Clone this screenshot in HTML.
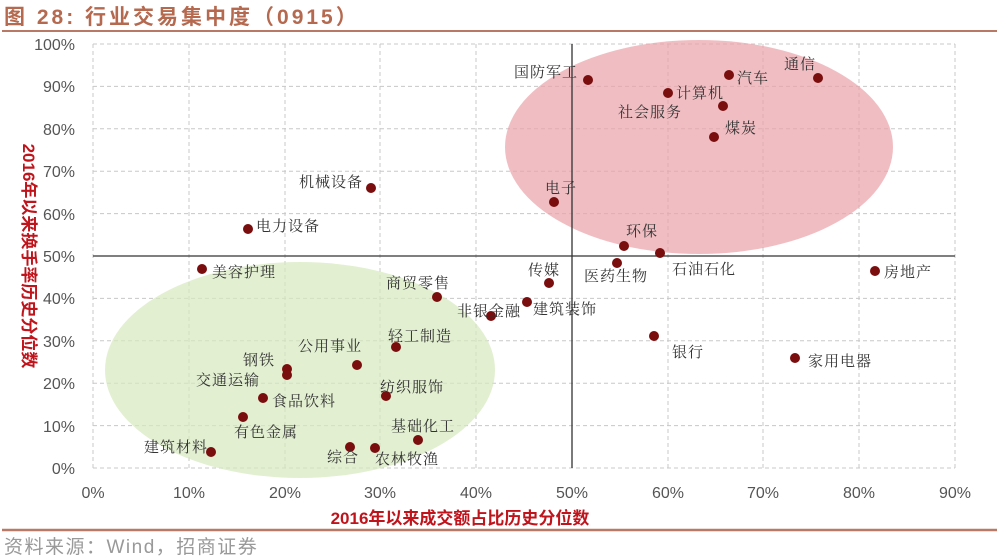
<!DOCTYPE html>
<html><head><meta charset="utf-8"><style>
body{margin:0;background:#fff;width:997px;height:558px;overflow:hidden}
svg{display:block}
.t{font-family:"Liberation Serif","Noto Serif CJK SC",serif;font-size:15px;letter-spacing:1px;fill:#333}
.ax{font-family:"Liberation Sans",sans-serif;font-size:16px;fill:#555}
</style></head><body>
<svg width="997" height="558" viewBox="0 0 997 558">
<text x="4" y="24" font-family="Liberation Sans,'Noto Sans CJK SC',sans-serif" font-size="21" font-weight="bold" letter-spacing="3" fill="#b5694f">图 28:  行业交易集中度（0915）</text>
<line x1="2" y1="31" x2="997" y2="31" stroke="#b87a66" stroke-width="2"/>
<line x1="2" y1="530" x2="997" y2="530" stroke="#b87a66" stroke-width="2.5"/>
<text x="4" y="553" font-family="Liberation Sans,'Noto Sans CJK SC',sans-serif" font-size="19" letter-spacing="1.5" fill="#999">资料来源：Wind，招商证券</text>
<g stroke="#c8c8c8" stroke-dasharray="4,3" stroke-width="1">
<line x1="93" y1="44" x2="955" y2="44"/><line x1="93" y1="86.4" x2="955" y2="86.4"/><line x1="93" y1="128.8" x2="955" y2="128.8"/><line x1="93" y1="171.2" x2="955" y2="171.2"/><line x1="93" y1="213.6" x2="955" y2="213.6"/><line x1="93" y1="298.4" x2="955" y2="298.4"/><line x1="93" y1="340.8" x2="955" y2="340.8"/><line x1="93" y1="383.2" x2="955" y2="383.2"/><line x1="93" y1="425.6" x2="955" y2="425.6"/><line x1="93" y1="468" x2="955" y2="468"/>
<line x1="93" y1="44" x2="93" y2="468"/><line x1="189" y1="44" x2="189" y2="468"/><line x1="285" y1="44" x2="285" y2="468"/><line x1="380" y1="44" x2="380" y2="468"/><line x1="476" y1="44" x2="476" y2="468"/><line x1="668" y1="44" x2="668" y2="468"/><line x1="763" y1="44" x2="763" y2="468"/><line x1="859" y1="44" x2="859" y2="468"/><line x1="955" y1="44" x2="955" y2="468"/>
</g>
<ellipse cx="699" cy="147" rx="194" ry="107" fill="#e9a3a8" fill-opacity="0.7"/>
<ellipse cx="300" cy="370" rx="195" ry="108" fill="#d6e8bd" fill-opacity="0.7"/>
<g stroke="#333" stroke-width="1.3">
<line x1="572" y1="44" x2="572" y2="468"/><line x1="93" y1="256" x2="955" y2="256"/>
</g>
<g class="ax" text-anchor="end">
<text x="75" y="50">100%</text><text x="75" y="92">90%</text><text x="75" y="135">80%</text><text x="75" y="177">70%</text><text x="75" y="220">60%</text><text x="75" y="262">50%</text><text x="75" y="304">40%</text><text x="75" y="347">30%</text><text x="75" y="389">20%</text><text x="75" y="432">10%</text><text x="75" y="474">0%</text>
</g>
<g class="ax" text-anchor="middle">
<text x="93" y="498">0%</text><text x="189" y="498">10%</text><text x="285" y="498">20%</text><text x="380" y="498">30%</text><text x="476" y="498">40%</text><text x="572" y="498">50%</text><text x="668" y="498">60%</text><text x="763" y="498">70%</text><text x="859" y="498">80%</text><text x="955" y="498">90%</text>
</g>
<text x="460" y="524" text-anchor="middle" font-family="Liberation Sans,'Noto Sans CJK SC',sans-serif" font-size="17" font-weight="bold" fill="#c0141c">2016年以来成交额占比历史分位数</text>
<text transform="translate(23,256) rotate(90)" text-anchor="middle" font-family="Liberation Sans,'Noto Sans CJK SC',sans-serif" font-size="17" font-weight="bold" fill="#c0141c">2016年以来换手率历史分位数</text>
<g fill="#7a0d0d">
<circle cx="588" cy="80" r="5"/><circle cx="818" cy="78" r="5"/><circle cx="729" cy="75" r="5"/><circle cx="668" cy="93" r="5"/><circle cx="723" cy="106" r="5"/><circle cx="714" cy="137" r="5"/><circle cx="371" cy="188" r="5"/><circle cx="554" cy="202" r="5"/><circle cx="248" cy="229" r="5"/><circle cx="624" cy="246" r="5"/><circle cx="660" cy="253" r="5"/><circle cx="617" cy="263" r="5"/><circle cx="549" cy="283" r="5"/><circle cx="875" cy="271" r="5"/><circle cx="202" cy="269" r="5"/><circle cx="437" cy="297" r="5"/><circle cx="527" cy="302" r="5"/><circle cx="491" cy="316" r="5"/><circle cx="396" cy="347" r="5"/><circle cx="357" cy="365" r="5"/><circle cx="287" cy="369" r="5"/><circle cx="287" cy="375" r="5"/><circle cx="263" cy="398" r="5"/><circle cx="386" cy="396" r="5"/><circle cx="243" cy="417" r="5"/><circle cx="654" cy="336" r="5"/><circle cx="795" cy="358" r="5"/><circle cx="418" cy="440" r="5"/><circle cx="211" cy="452" r="5"/><circle cx="350" cy="447" r="5"/><circle cx="375" cy="448" r="5"/>
</g>
<g class="t">
<text x="514" y="77">国防军工</text><text x="784" y="69">通信</text><text x="737" y="83">汽车</text><text x="676" y="98">计算机</text><text x="618" y="117">社会服务</text><text x="725" y="133">煤炭</text><text x="299" y="187">机械设备</text><text x="545" y="193">电子</text><text x="256" y="231">电力设备</text><text x="626" y="236">环保</text><text x="672" y="274">石油石化</text><text x="584" y="281">医药生物</text><text x="528" y="275">传媒</text><text x="884" y="277">房地产</text><text x="212" y="277">美容护理</text><text x="386" y="288">商贸零售</text><text x="533" y="314">建筑装饰</text><text x="457" y="316">非银金融</text><text x="388" y="341">轻工制造</text><text x="298" y="351">公用事业</text><text x="243" y="365">钢铁</text><text x="196" y="385">交通运输</text><text x="272" y="406">食品饮料</text><text x="380" y="392">纺织服饰</text><text x="234" y="437">有色金属</text><text x="672" y="357">银行</text><text x="808" y="366">家用电器</text><text x="391" y="431">基础化工</text><text x="144" y="452">建筑材料</text><text x="327" y="462">综合</text><text x="375" y="464">农林牧渔</text>
</g>
</svg>
</body></html>
